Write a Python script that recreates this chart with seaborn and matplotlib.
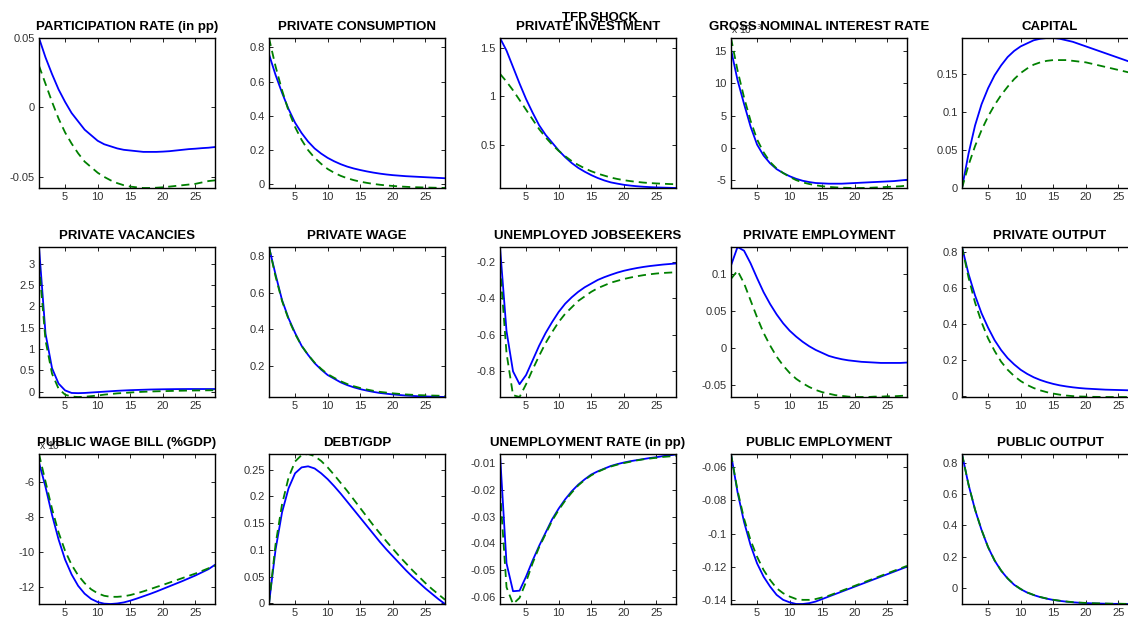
import numpy as np
import pandas as pd
import matplotlib
matplotlib.use("Agg")
import matplotlib.pyplot as plt
import seaborn as sns

periods = list(range(1, 29))

titles = [
    "PARTICIPATION RATE (in pp)", "PRIVATE CONSUMPTION", "PRIVATE INVESTMENT",
    "GROSS NOMINAL INTEREST RATE", "CAPITAL",
    "PRIVATE VACANCIES", "PRIVATE WAGE", "UNEMPLOYED JOBSEEKERS",
    "PRIVATE EMPLOYMENT", "PRIVATE OUTPUT",
    "PUBLIC WAGE BILL (%GDP)", "DEBT/GDP", "UNEMPLOYMENT RATE (in pp)",
    "PUBLIC EMPLOYMENT", "PUBLIC OUTPUT",
]

# ---- series (blue solid / green dashed) ----
part_b = [0.05, 0.036, 0.024, 0.013, 0.004, -0.004, -0.010, -0.016, -0.020, -0.024,
          -0.0265, -0.028, -0.0295, -0.0305, -0.031, -0.0315, -0.032, -0.032, -0.032, -0.0318,
          -0.0315, -0.031, -0.0305, -0.030, -0.0297, -0.0293, -0.029, -0.0285]
part_g = [0.030, 0.017, 0.004, -0.008, -0.018, -0.026, -0.033, -0.039, -0.043, -0.047,
          -0.050, -0.0525, -0.0545, -0.056, -0.057, -0.0575, -0.058, -0.058, -0.0578, -0.0575,
          -0.057, -0.0565, -0.056, -0.0555, -0.055, -0.054, -0.053, -0.0525]

cons_b = [0.76, 0.64, 0.535, 0.44, 0.36, 0.30, 0.25, 0.21, 0.18, 0.155,
          0.135, 0.118, 0.104, 0.093, 0.084, 0.076, 0.069, 0.063, 0.058, 0.054,
          0.051, 0.048, 0.046, 0.044, 0.042, 0.040, 0.038, 0.036]
cons_g = [0.855, 0.69, 0.55, 0.43, 0.335, 0.26, 0.20, 0.155, 0.12, 0.09,
          0.068, 0.05, 0.036, 0.025, 0.016, 0.009, 0.003, -0.002, -0.006, -0.009,
          -0.012, -0.014, -0.016, -0.017, -0.018, -0.019, -0.020, -0.021]

inv_b = [1.60, 1.47, 1.30, 1.13, 0.97, 0.83, 0.70, 0.60, 0.52, 0.44,
         0.37, 0.31, 0.26, 0.22, 0.185, 0.155, 0.13, 0.11, 0.097, 0.085,
         0.077, 0.07, 0.065, 0.061, 0.058, 0.056, 0.054, 0.052]
inv_g = [1.23, 1.15, 1.06, 0.96, 0.86, 0.76, 0.66, 0.575, 0.50, 0.435,
         0.38, 0.33, 0.29, 0.255, 0.225, 0.2, 0.18, 0.16, 0.145, 0.133,
         0.123, 0.115, 0.108, 0.103, 0.099, 0.096, 0.093, 0.091]

rate_b = [15.2, 10.5, 6.8, 3.3, 0.5, -1.2, -2.4, -3.3, -3.9, -4.4,
          -4.8, -5.1, -5.3, -5.45, -5.5, -5.55, -5.55, -5.55, -5.5, -5.45,
          -5.4, -5.35, -5.3, -5.25, -5.2, -5.15, -5.05, -4.95]
rate_g = [17.0, 12.0, 7.8, 4.2, 1.3, -0.7, -2.2, -3.2, -3.9, -4.5,
          -5.0, -5.35, -5.6, -5.8, -5.95, -6.05, -6.12, -6.17, -6.2, -6.22,
          -6.22, -6.2, -6.15, -6.1, -6.05, -6.0, -5.95, -5.85]

cap_b = [0.0, 0.045, 0.082, 0.110, 0.131, 0.148, 0.161, 0.172, 0.180, 0.186,
         0.190, 0.194, 0.196, 0.197, 0.197, 0.196, 0.194, 0.192, 0.189, 0.186,
         0.183, 0.180, 0.177, 0.174, 0.171, 0.168, 0.165, 0.162]
cap_g = [0.0, 0.030, 0.055, 0.076, 0.094, 0.109, 0.122, 0.133, 0.143, 0.151,
         0.157, 0.162, 0.165, 0.167, 0.168, 0.168, 0.168, 0.167, 0.166, 0.165,
         0.163, 0.161, 0.159, 0.157, 0.155, 0.153, 0.151, 0.149]

vac_b = [3.39, 1.36, 0.55, 0.19, 0.03, -0.03, -0.035, -0.03, -0.02, -0.01,
         0.0, 0.01, 0.02, 0.028, 0.035, 0.04, 0.045, 0.05, 0.053, 0.056,
         0.058, 0.06, 0.061, 0.062, 0.062, 0.062, 0.062, 0.062]
vac_g = [3.0, 1.2, 0.42, 0.07, -0.07, -0.115, -0.125, -0.12, -0.105, -0.09,
         -0.07, -0.055, -0.04, -0.03, -0.02, -0.01, -0.003, 0.003, 0.008, 0.012,
         0.016, 0.02, 0.023, 0.026, 0.028, 0.03, 0.032, 0.033]

wage_b = [0.85, 0.70, 0.56, 0.46, 0.38, 0.31, 0.26, 0.215, 0.18, 0.15,
          0.13, 0.11, 0.095, 0.083, 0.073, 0.065, 0.058, 0.052, 0.048, 0.044,
          0.041, 0.038, 0.036, 0.034, 0.033, 0.032, 0.031, 0.030]
wage_g = [0.85, 0.69, 0.555, 0.455, 0.375, 0.31, 0.26, 0.218, 0.184, 0.155,
          0.135, 0.116, 0.101, 0.089, 0.079, 0.071, 0.064, 0.058, 0.054, 0.050,
          0.047, 0.044, 0.042, 0.040, 0.039, 0.038, 0.037, 0.036]

job_b = [-0.12, -0.58, -0.80, -0.87, -0.82, -0.74, -0.66, -0.59, -0.53, -0.475,
         -0.43, -0.395, -0.365, -0.34, -0.32, -0.30, -0.285, -0.272, -0.26, -0.25,
         -0.242, -0.235, -0.229, -0.224, -0.22, -0.216, -0.213, -0.21]
job_g = [-0.22, -0.70, -0.93, -0.94, -0.87, -0.79, -0.715, -0.645, -0.585, -0.53,
         -0.485, -0.45, -0.415, -0.39, -0.365, -0.345, -0.33, -0.315, -0.305, -0.295,
         -0.287, -0.28, -0.274, -0.269, -0.265, -0.262, -0.26, -0.258]

emp_b = [0.111, 0.136, 0.131, 0.114, 0.094, 0.075, 0.059, 0.045, 0.033, 0.023,
         0.015, 0.008, 0.002, -0.003, -0.007, -0.011, -0.0135, -0.0155, -0.017, -0.018,
         -0.019, -0.0195, -0.020, -0.0205, -0.0205, -0.0205, -0.0205, -0.020]
emp_g = [0.093, 0.104, 0.087, 0.064, 0.041, 0.020, 0.003, -0.012, -0.024, -0.034,
         -0.042, -0.048, -0.053, -0.057, -0.060, -0.062, -0.064, -0.065, -0.066, -0.0665,
         -0.0665, -0.0665, -0.066, -0.066, -0.0655, -0.0655, -0.065, -0.0645]

out_b = [0.83, 0.68, 0.56, 0.46, 0.38, 0.31, 0.255, 0.21, 0.175, 0.145,
         0.122, 0.103, 0.088, 0.076, 0.066, 0.058, 0.052, 0.047, 0.043, 0.040,
         0.038, 0.036, 0.034, 0.033, 0.032, 0.031, 0.030, 0.030]
out_g = [0.83, 0.66, 0.52, 0.41, 0.32, 0.25, 0.19, 0.145, 0.11, 0.082,
         0.060, 0.043, 0.030, 0.020, 0.012, 0.006, 0.001, -0.002, -0.004, -0.005,
         -0.006, -0.0065, -0.007, -0.007, -0.007, -0.007, -0.007, -0.007]

pwb_b = [-4.9, -6.3, -7.9, -9.3, -10.45, -11.3, -11.95, -12.4, -12.7, -12.88,
         -12.97, -12.99, -12.96, -12.9, -12.8, -12.68, -12.55, -12.42, -12.28, -12.13,
         -11.98, -11.83, -11.68, -11.52, -11.36, -11.18, -11.0, -10.75]
pwb_g = [-4.42, -6.0, -7.55, -8.9, -9.95, -10.75, -11.35, -11.8, -12.15, -12.38,
         -12.52, -12.58, -12.58, -12.55, -12.48, -12.38, -12.27, -12.15, -12.02, -11.9,
         -11.77, -11.64, -11.51, -11.38, -11.25, -11.1, -10.95, -10.8]

debt_b = [0.0, 0.10, 0.17, 0.215, 0.243, 0.254, 0.256, 0.252, 0.243, 0.232,
          0.219, 0.205, 0.19, 0.175, 0.16, 0.145, 0.13, 0.115, 0.101, 0.088,
          0.075, 0.062, 0.05, 0.039, 0.028, 0.018, 0.008, -0.001]
debt_g = [0.0, 0.11, 0.185, 0.235, 0.265, 0.277, 0.279, 0.275, 0.266, 0.254,
          0.24, 0.225, 0.21, 0.194, 0.178, 0.162, 0.146, 0.131, 0.116, 0.102,
          0.088, 0.075, 0.062, 0.05, 0.038, 0.027, 0.017, 0.007]

urate_b = [-0.0065, -0.0475, -0.058, -0.0578, -0.0525, -0.0465, -0.041, -0.036, -0.031, -0.027,
           -0.0235, -0.0205, -0.018, -0.016, -0.0142, -0.013, -0.012, -0.011, -0.0103, -0.0097,
           -0.0092, -0.0088, -0.0084, -0.008, -0.0077, -0.0073, -0.007, -0.0067]
urate_g = [-0.020, -0.0565, -0.0628, -0.0605, -0.0545, -0.0475, -0.0415, -0.0365, -0.0315, -0.0275,
           -0.024, -0.021, -0.0183, -0.0162, -0.0145, -0.0132, -0.0121, -0.0112, -0.0105, -0.0099,
           -0.0094, -0.0089, -0.0085, -0.0082, -0.0079, -0.0076, -0.0074, -0.0072]

pemp_b = [-0.052, -0.075, -0.093, -0.107, -0.118, -0.126, -0.132, -0.137, -0.140, -0.1415,
          -0.1425, -0.1425, -0.142, -0.141, -0.1395, -0.138, -0.1365, -0.135, -0.1335, -0.132,
          -0.1305, -0.129, -0.1275, -0.126, -0.1245, -0.123, -0.1215, -0.120]
pemp_g = [-0.052, -0.074, -0.091, -0.104, -0.114, -0.122, -0.128, -0.133, -0.136, -0.138,
          -0.1395, -0.140, -0.140, -0.1395, -0.1385, -0.1375, -0.136, -0.1345, -0.133, -0.1315,
          -0.130, -0.1285, -0.127, -0.1255, -0.124, -0.1225, -0.121, -0.1195]

pout_b = [0.856, 0.66, 0.50, 0.37, 0.26, 0.175, 0.11, 0.06, 0.02, -0.008,
          -0.03, -0.046, -0.059, -0.069, -0.077, -0.083, -0.088, -0.092, -0.095, -0.097,
          -0.099, -0.100, -0.101, -0.102, -0.102, -0.103, -0.103, -0.103]
pout_g = [0.856, 0.661, 0.501, 0.371, 0.261, 0.176, 0.111, 0.061, 0.021, -0.007,
          -0.029, -0.045, -0.058, -0.068, -0.076, -0.082, -0.087, -0.091, -0.094, -0.096,
          -0.098, -0.099, -0.100, -0.101, -0.101, -0.102, -0.102, -0.102]

blue_series = [part_b, cons_b, inv_b, rate_b, cap_b, vac_b, wage_b, job_b, emp_b, out_b,
               pwb_b, debt_b, urate_b, pemp_b, pout_b]
green_series = [part_g, cons_g, inv_g, rate_g, cap_g, vac_g, wage_g, job_g, emp_g, out_g,
                pwb_g, debt_g, urate_g, pemp_g, pout_g]

yticks = [
    [-0.05, 0, 0.05], [0, 0.2, 0.4, 0.6, 0.8], [0.5, 1, 1.5], [-5, 0, 5, 10, 15],
    [0, 0.05, 0.1, 0.15],
    [0, 0.5, 1, 1.5, 2, 2.5, 3], [0.2, 0.4, 0.6, 0.8], [-0.8, -0.6, -0.4, -0.2],
    [-0.05, 0, 0.05, 0.1], [0, 0.2, 0.4, 0.6, 0.8],
    [-12, -10, -8, -6], [0, 0.05, 0.1, 0.15, 0.2, 0.25],
    [-0.06, -0.05, -0.04, -0.03, -0.02, -0.01], [-0.14, -0.12, -0.1, -0.08, -0.06],
    [0, 0.2, 0.4, 0.6, 0.8],
]
xticks = [5, 10, 15, 20, 25]
scaled_panels = [3, 10]   # panels shown in units of 10^-3

# ---- style ----
sns.set_theme(style="white")
plt.rcParams['font.family'] = ['Liberation Sans', 'DejaVu Sans']
plt.rcParams['axes.linewidth'] = 1.0
plt.rcParams['axes.edgecolor'] = 'black'

W, H = 1128, 619
fig = plt.figure(figsize=(W / 100, H / 100), dpi=100)
fig.patch.set_facecolor('white')

lefts = [39, 269, 500, 731, 962]
tops = [38, 247, 454]
aw, ah = 176, 150

for i in range(15):
    r, c = divmod(i, 5)
    ax = fig.add_axes([lefts[c] / W, 1 - (tops[r] + ah) / H, aw / W, ah / H])
    df = pd.DataFrame({"t": periods, "blue": blue_series[i], "green": green_series[i]})
    sns.lineplot(data=df, x="t", y="blue", ax=ax, color=(0, 0, 1), lw=1.3)
    sns.lineplot(data=df, x="t", y="green", ax=ax, color=(0, 0.5, 0), lw=1.3,
                 dashes=False, linestyle=(0, (4.5, 2.8)))
    allv = blue_series[i] + green_series[i]
    ax.set_xlim(1, 28)
    ax.set_ylim(min(allv), max(allv))
    ax.set_xticks(xticks)
    ax.set_xticklabels([str(v) for v in xticks])
    ax.set_yticks(yticks[i])
    ax.set_yticklabels(['{:g}'.format(v) for v in yticks[i]])
    ax.set_xlabel("")
    ax.set_ylabel("")
    ax.tick_params(direction='in', length=3, width=0.6, top=True, right=True,
                   bottom=True, left=True, labelsize=8, colors='black',
                   labelcolor='#333333', pad=3)
    for s in ax.spines.values():
        s.set_visible(True)
        s.set_color('black')
    ax.set_title(titles[i], fontsize=9.5, fontweight='bold', pad=6, color='black')
    if i in scaled_panels:
        ax.text(0.0, 1.01, r"x 10$^{-3}$", transform=ax.transAxes, fontsize=7.5,
                ha='left', va='bottom', color='#333333')

fig.text(600 / W, 1 - 21 / H, "TFP SHOCK", ha='center', va='baseline',
         fontsize=9.5, fontweight='bold', color='black')

fig.savefig("out.png", dpi=100, facecolor='white')
